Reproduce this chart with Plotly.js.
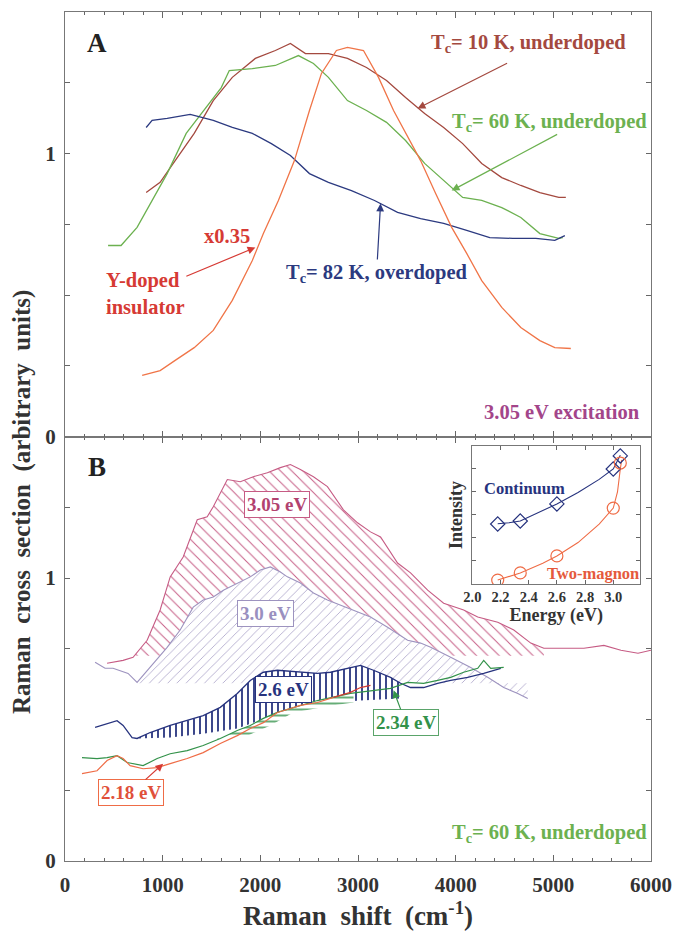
<!DOCTYPE html>
<html><head><meta charset="utf-8">
<script src="https://cdn.plot.ly/plotly-3.0.1.min.js"></script>
<style>body{margin:0;background:#fff}</style>
</head><body><div id="chart" style="width:673px;height:931px"></div>
<script>
// ---------- Panel A (3.05 eV excitation) ----------
const brownX = [831,974,1128,1323,1518,1713,1949,2154,2308,2462,2697,2892,3087,3292,3487,3682,3877,4072,4267,4472,4667,4862,5056,5128];
const brownY = [0.862,0.898,0.975,1.071,1.187,1.269,1.336,1.364,1.389,1.353,1.353,1.336,1.304,1.258,1.198,1.141,1.092,1.035,0.965,0.915,0.887,0.862,0.845,0.845];
const greenAX = [441,574,738,892,1046,1241,1446,1600,1682,1918,2154,2390,2544,2697,2892,3087,3292,3487,3682,3877,4072,4267,4472,4667,4862,5056,5097];
const greenAY = [0.675,0.675,0.739,0.834,0.929,1.071,1.163,1.233,1.293,1.300,1.311,1.346,1.318,1.269,1.187,1.152,1.110,1.046,0.965,0.905,0.845,0.834,0.809,0.774,0.717,0.700,0.703];
const blueAX = [831,892,1046,1282,1518,1713,1918,2113,2308,2503,2697,2933,3169,3405,3641,3877,4113,4349,4585,4821,5015,5118];
const blueAY = [1.092,1.117,1.124,1.138,1.117,1.092,1.071,1.035,0.993,0.929,0.898,0.869,0.834,0.792,0.770,0.753,0.728,0.703,0.700,0.700,0.693,0.710];
const orangeAX = [790,974,1128,1323,1518,1713,1918,2031,2185,2349,2503,2626,2779,2892,3056,3210,3364,3487,3641,3795,3959,4113,4267,4472,4667,4862,5015,5179];
const orangeAY = [0.216,0.233,0.269,0.314,0.375,0.481,0.622,0.717,0.834,0.975,1.152,1.283,1.364,1.375,1.364,1.269,1.152,1.071,0.975,0.859,0.739,0.647,0.551,0.456,0.385,0.339,0.314,0.311];

// ---------- Panel B (Tc = 60 K, underdoped, several excitation energies) ----------
const e305X = [431,595,697,841,974,1077,1210,1354,1456,1518,1662,1795,1928,2072,2205,2308,2410,2544,2687,2851,2995,3128,3231,3405,3538,3713,3877,4082,4226,4431,4595,4769,4903,5108,5313,5518,5692,5867,6000];
const e305Y = [0.699,0.709,0.720,0.780,0.887,1.004,1.074,1.206,1.216,1.252,1.348,1.340,1.358,1.372,1.390,1.401,1.383,1.358,1.323,1.241,1.195,1.163,1.145,1.053,1.018,0.957,0.911,0.887,0.862,0.844,0.816,0.770,0.752,0.752,0.752,0.762,0.745,0.734,0.745];
const e300X = [308,410,492,646,738,903,1046,1179,1313,1415,1518,1621,1764,1897,2000,2103,2205,2277,2410,2544,2687,2821,2954,3128,3303,3508,3641,3744,3949,4154,4328,4492,4636,4738];
const e300Y = [0.702,0.681,0.681,0.663,0.631,0.699,0.755,0.816,0.897,0.922,0.933,0.957,0.982,1.004,1.028,1.039,1.021,1.004,0.982,0.947,0.922,0.904,0.887,0.862,0.826,0.780,0.770,0.755,0.720,0.684,0.649,0.613,0.592,0.574];
const e26X = [308,533,595,687,738,872,1077,1251,1415,1590,1764,1897,2031,2174,2308,2585,2718,2923,3026,3159,3333,3436,3538,3672,3815,3949,4123,4287,4462];
const e26Y = [0.472,0.496,0.479,0.436,0.433,0.454,0.479,0.496,0.514,0.543,0.592,0.638,0.667,0.674,0.670,0.663,0.667,0.684,0.691,0.674,0.649,0.628,0.613,0.613,0.628,0.638,0.649,0.663,0.681];
const e234X = [174,328,431,533,636,800,944,1077,1251,1415,1590,1764,1897,2031,2174,2308,2585,2923,3200,3333,3508,3672,3815,3949,4082,4226,4287,4359,4492];
const e234Y = [0.365,0.362,0.365,0.372,0.348,0.337,0.362,0.379,0.390,0.408,0.433,0.461,0.479,0.504,0.525,0.539,0.567,0.592,0.603,0.610,0.631,0.628,0.638,0.649,0.667,0.681,0.709,0.681,0.684];
const e218X = [174,328,431,533,595,667,800,944,1077,1251,1415,1590,1764,1897,2031,2174,2308,2410,2585,2749,2923,3026,3128];
const e218Y = [0.309,0.319,0.355,0.372,0.362,0.337,0.326,0.330,0.344,0.362,0.383,0.415,0.443,0.468,0.489,0.525,0.539,0.550,0.560,0.578,0.596,0.613,0.621];

// lower edges of the hatched areas
const hatch305BaseX = [697,4903];   const hatch305BaseY = [0.725,0.725];
const hatch300BaseX = [738,4738];   const hatch300BaseY = [0.628,0.628];
const hatch26BaseX = [738,1077,1415,1764,2103,2646,3026,3436];
const hatch26BaseY = [0.433,0.436,0.450,0.468,0.511,0.557,0.567,0.574];
const hatch234BaseX = [1559,1867,2103,2338,2749,2954];
const hatch234BaseY = [0.443,0.443,0.479,0.525,0.550,0.560];

// ---------- Inset ----------
const energy = [2.18,2.34,2.6,3.0,3.05];
const continuum = [2.61,2.74,3.48,5.0,5.57];
const twoMagnon = [0.17,0.48,1.22,3.30,5.26];
const contFitX = [2.18,2.26,2.34,2.45,2.6,2.75,2.9,3.0,3.05];
const contFitY = [2.62,2.66,2.74,3.05,3.48,3.98,4.55,5.0,5.6];
const magFitX = [2.18,2.34,2.5,2.6,2.75,2.9,3.0,3.03,3.05,3.06];
const magFitY = [0.17,0.48,0.9,1.22,1.8,2.6,3.3,4.0,5.0,5.4];

const xTicks = [0,1000,2000,3000,4000,5000,6000];
const yTickVals = [0,1];
const yTickText = ['0','1'];
const insetTicks = [2.0,2.2,2.4,2.6,2.8,3.0];

// ---------- helpers ----------
function interp(xs, ys, x){
  for(let i=0;i<xs.length-1;i++){
    if(x>=xs[i] && x<=xs[i+1]){const t=(x-xs[i])/(xs[i+1]-xs[i]);return ys[i]+t*(ys[i+1]-ys[i]);}
  }
  return x<xs[0]?ys[0]:ys[ys.length-1];
}
function band(cx, cy, bx, by){
  const x0=bx[0], x1=bx[bx.length-1];
  const px=[x0], py=[interp(cx,cy,x0)];
  for(let i=0;i<cx.length;i++){ if(cx[i]>x0 && cx[i]<x1){px.push(cx[i]);py.push(cy[i]);} }
  px.push(x1); py.push(interp(cx,cy,x1));
  for(let j=bx.length-1;j>=0;j--){px.push(bx[j]);py.push(by[j]);}
  px.push(px[0]); py.push(py[0]);
  return {x:px,y:py};
}
function split(xs, ys, lo, hi){
  const ox=[],oy=[];
  for(let i=0;i<xs.length;i++){ if(xs[i]>=lo && xs[i]<=hi){ox.push(xs[i]);oy.push(ys[i]);} }
  return {x:ox,y:oy};
}

const C = {
  brown:'#a4493f', greenA:'#6cb150', blueA:'#2c3a80', orangeA:'#f07548', red:'#d63a34',
  pink:'#c65b84', lav:'#9d93bf', navy:'#27337e', green:'#33924a', orange:'#ef6c46', magenta:'#a3458a'
};
const FF = 'Liberation Serif';
const FS = 20.5;

const traces = [];
function hatch(b, shape, color, size, sol){
  traces.push({x:b.x, y:b.y, xaxis:'x', yaxis:'y', mode:'none', fill:'toself',
    fillcolor:'rgba(0,0,0,0)',
    fillpattern:{shape:shape, fgcolor:color, bgcolor:'#ffffff', size:size, solidity:sol, fillmode:'replace'},
    hoverinfo:'skip', showlegend:false});
}
hatch(band(e305X,e305Y,hatch305BaseX,hatch305BaseY), '\\', C.pink, 8, 0.12);
hatch(band(e300X,e300Y,hatch300BaseX,hatch300BaseY), '/', '#a9a0c8', 6.5, 0.12);
hatch(band(e26X,e26Y,hatch26BaseX,hatch26BaseY), '|', C.navy, 6, 0.3);
hatch(band(e234X,e234Y,hatch234BaseX,hatch234BaseY), '-', C.green, 6, 0.25);

function line(x,y,color,xa,ya,w){
  traces.push({x:x,y:y,xaxis:xa,yaxis:ya,mode:'lines',line:{color:color,width:w||1.3},hoverinfo:'skip',showlegend:false});
}
line(e305X,e305Y,C.pink,'x','y',1.1);
line(e300X,e300Y,C.lav,'x','y',1.1);
line(e26X,e26Y,C.navy,'x','y',1.3);
line(e234X,e234Y,C.green,'x','y',1.2);
const o1 = split(e218X,e218Y,0,2749), o2 = split(e218X,e218Y,2749,4000);
line(o1.x,o1.y,C.orange,'x','y',1.2);
line(o2.x,o2.y,C.red,'x','y',1.3);

line(brownX,brownY,C.brown,'x2','y2');
line(greenAX,greenAY,C.greenA,'x2','y2');
line(blueAX,blueAY,C.blueA,'x2','y2');
line(orangeAX,orangeAY,C.orangeA,'x2','y2');

// inset
line(contFitX,contFitY,C.navy,'x3','y3',1.1);
line(magFitX,magFitY,C.orange,'x3','y3',1.1);
traces.push({x:energy,y:continuum,xaxis:'x3',yaxis:'y3',mode:'markers',
  marker:{symbol:'diamond-open',size:11,color:C.navy,line:{width:1.2}},hoverinfo:'skip',showlegend:false});
traces.push({x:energy,y:twoMagnon,xaxis:'x3',yaxis:'y3',mode:'markers',
  marker:{symbol:'circle-open',size:12,color:C.orange,line:{width:1.2}},hoverinfo:'skip',showlegend:false});

const axBase = {
  showline:true, linecolor:'#777', linewidth:1, mirror:'ticks', ticks:'inside', tickcolor:'#666',
  showgrid:false, zeroline:false
};
const xMain = Object.assign({}, axBase, {range:[0,6000], tickvals:xTicks, ticklen:6,
  minor:{dtick:200, tick0:0, ticks:'inside', ticklen:3, tickcolor:'#666', showgrid:false}});
const yMain = Object.assign({}, axBase, {range:[0,1.5], tickvals:yTickVals, ticktext:yTickText, ticklen:5,
  minor:{dtick:0.25, tick0:0, ticks:'inside', ticklen:5, tickcolor:'#666', showgrid:false},
  ticklabelstandoff:4,
  tickfont:{family:FF,size:21,color:'#333',weight:'bold'}});

function ann(text,x,y,xr,yr,color,size,extra){
  return Object.assign({text:text,x:x,y:y,xref:xr,yref:yr,showarrow:false,
    font:{family:FF,size:size||FS,color:color,weight:'bold'}}, extra||{});
}
function arrow(x,y,ax,ay,xr,yr,color){
  return {text:'',x:x,y:y,xref:xr,yref:yr,ax:ax,ay:ay,showarrow:true,arrowhead:2,arrowsize:1.3,arrowwidth:1.2,arrowcolor:color};
}
function withArrow(a, hx, hy, ax, ay, color){
  return Object.assign(a, {x:hx, y:hy, ax:ax, ay:ay, showarrow:true, arrowhead:2, arrowsize:1.3, arrowwidth:1.2, arrowcolor:color});
}
function boxed(text,x,y,color,bc){
  return ann(text,x,y,'x','y',color,19,{bgcolor:'#fff',bordercolor:bc||color,borderwidth:1,borderpad:2});
}

const annotations = [
  ann('A',328,1.392,'x2','y2','#222',27),
  ann('T<sub>c</sub>= 10 K, underdoped',5764,1.389,'x2','y2',C.brown,FS,{xanchor:'right'}),
  arrow(3610,1.159,91,-46,'x2','y2',C.brown),
  ann('T<sub>c</sub>= 60 K, underdoped',5979,1.110,'x2','y2',C.greenA,FS,{xanchor:'right'}),
  arrow(3959,0.869,107,-57,'x2','y2',C.greenA),
  withArrow(ann('T<sub>c</sub>= 82 K, overdoped',0,0,'x2','y2',C.blueA,FS), 3231,0.823,-4,70,C.blueA),
  ann('x0.35',1662,0.710,'x2','y2',C.red,FS),
  withArrow(ann('Y-doped<br>insulator',0,0,'x2','y2',C.red,FS,{align:'left'}), 1949,0.668,-110,46,C.red),
  ann('3.05 eV excitation',5908,0.088,'x2','y2',C.magenta,FS,{xanchor:'right'}),

  ann('B',328,1.394,'x','y','#222',27),
  boxed('3.05 eV',2174,1.259,'#b2426f',C.pink),
  boxed('3.0 eV',2051,0.876,'#9a90c0',C.lav),
  boxed('2.6 eV',2236,0.606,C.navy),
  withArrow(boxed('2.34 eV',0,0,C.green,'#5aa46a'), 3364,0.603,12,32,C.green),
  withArrow(boxed('2.18 eV',0,0,'#e0503a',C.orange), 1005,0.344,-32,29,C.red),
  ann('T<sub>c</sub>= 60 K, underdoped',5979,0.096,'x','y',C.greenA,FS,{xanchor:'right'}),

  ann('Continuum',2.367,4.17,'x3','y3',C.navy,16.5),
  ann('Two-magnon',2.855,0.45,'x3','y3','#e55a3c',16.5),

  ann('Raman\u00a0\u00a0cross\u00a0\u00a0section\u00a0\u00a0(arbitrary\u00a0\u00a0units)',-0.073,0.423,'paper','paper','#333',25,
      {textangle:-90, xanchor:'center', yanchor:'middle'})
];

const layout = {
  width:673, height:931, margin:{l:65,r:22,t:12,b:70},
  paper_bgcolor:'#fff', plot_bgcolor:'#fff', showlegend:false,
  font:{family:FF,color:'#333'},
  xaxis: Object.assign({}, xMain, {anchor:'y', domain:[0,1], ticklabelstandoff:5,
    tickfont:{family:FF,size:21,color:'#333',weight:'bold'},
    title:{text:'Raman\u00a0\u00a0shift\u00a0\u00a0(cm<sup>-1</sup>)', font:{family:FF,size:27,color:'#333',weight:'bold'}, standoff:6}}),
  yaxis: Object.assign({}, yMain, {anchor:'x', domain:[0,0.5]}),
  xaxis2: Object.assign({}, xMain, {anchor:'y2', domain:[0,1], matches:'x', showticklabels:false}),
  yaxis2: Object.assign({}, yMain, {anchor:'x2', domain:[0.5,1]}),
  xaxis3: Object.assign({}, axBase, {anchor:'y3', domain:[0.6951,0.9813], range:[2.0,3.19],
    tickvals:insetTicks, ticktext:insetTicks.map(v=>v.toFixed(1)), ticklen:4,
    tickfont:{family:FF,size:14.5,color:'#333',weight:'bold'},
    title:{text:'Energy (eV)', font:{family:FF,size:18,color:'#333',weight:'bold'}, standoff:1}}),
  yaxis3: Object.assign({}, axBase, {anchor:'x3', domain:[0.3263,0.4888], range:[0,6], dtick:1, ticklen:4,
    showticklabels:false,
    title:{text:'Intensity', font:{family:FF,size:18,color:'#333',weight:'bold'}, standoff:4}}),
  annotations: annotations
};

Plotly.newPlot('chart', traces, layout, {staticPlot:true, displayModeBar:false});
</script></body></html>
